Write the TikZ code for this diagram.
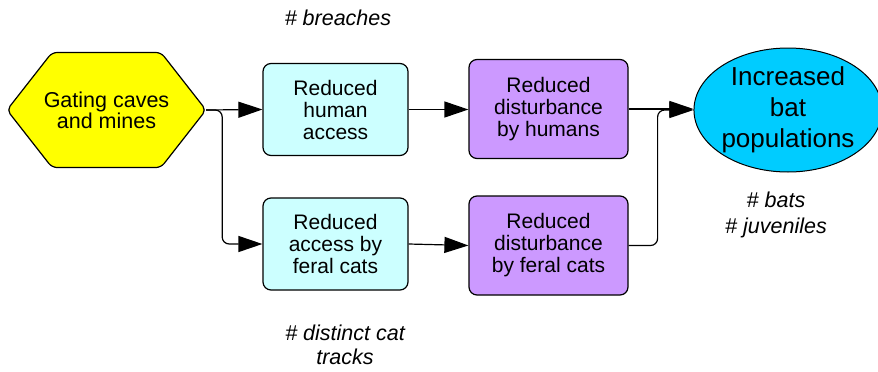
\documentclass[tikz,border=0pt]{standalone}
\usepackage{fontspec}
\setmainfont{Liberation Sans}
\usetikzlibrary{positioning, arrows.meta, shapes.geometric}

\definecolor{gateyellow}{HTML}{FFFF00}
\definecolor{accesscyan}{HTML}{CCFFFF}
\definecolor{disturbpurple}{HTML}{CC99FF}
\definecolor{batblue}{HTML}{00CCFF}

\tikzset{
	gate/.style={rectangle, minimum width=199, minimum height=115, inner sep=0, align=center, font=\fontsize{21.5}{21}\selectfont},
	hexa/.style={draw, fill=gateyellow, line width=1.2, rounded corners=5},
	access/.style={draw, rectangle, rounded corners=8, fill=accesscyan, line width=1.2, minimum width=145, minimum height=92, align=center, font=\fontsize{21}{22}\selectfont},
	disturb/.style={draw, rectangle, rounded corners=8, fill=disturbpurple, line width=1.2, minimum width=159, minimum height=99, align=center, font=\fontsize{21}{22}\selectfont},
	outcome/.style={draw, ellipse, fill=batblue, line width=1, minimum width=176, minimum height=124, inner sep=0, align=center, font=\fontsize{26}{31}\selectfont},
	measure/.style={align=center, font=\fontsize{21.5}{26}\selectfont\itshape},
	link/.style={->, line width=1.2, rounded corners=7}
}

\begin{document}
\begin{tikzpicture}
			[x=1pt, y=-1pt, >={Triangle[length=24pt, width=16pt]}]
			\useasboundingbox (0,0) rectangle (878,372);
			% nodes %
			\coordinate (gatec) at (106.5,110);
			\draw[hexa] (gatec) ++(-99.5,0) -- ++(45,-57.5) -- ++(109,0) -- ++(45,57.5)
				-- ++(-45,57.5) -- ++(-109,0) -- cycle;
			\node[gate] (gating) at (gatec) {Gating caves\\and mines};
			\node[access] (human) at (335.5,109.5) {Reduced\\human\\access};
			\node[access] (cats) at (335.5,244) {Reduced\\access by\\feral cats};
			\node[disturb] (disthuman) at (548.5,109) {Reduced\\disturbance\\by humans};
			\node[disturb] (distcats) at (548.5,245.5) {Reduced\\disturbance\\by feral cats};
			\node[outcome] (bats) at (788,110) {Increased\\bat\\populations};

			% measures %
			\node[measure] (breaches) at (338,18) {\# breaches};
			\node[measure] (counts) at (776,215) {\# bats\\\# juveniles};
			\node[measure, font=\fontsize{21.5}{24}\selectfont\itshape] (tracks) at (345,345) {\# distinct cat\\tracks};

			% edges %
			\draw[link] (gating.east) -- (human.west);
			\draw[link] (gating.east) -- ++(16,0) |- (cats.west);
			\draw[link] (human.east) -- (human.east -| disthuman.west);
			\draw[link] (cats.east) -- (distcats.west);
			\draw[link] (disthuman.east) -- (disthuman.east -| bats.west);
			\draw[link] (distcats.east) -- ++(29,0) |- (bats.west);
\end{tikzpicture}
\end{document}
